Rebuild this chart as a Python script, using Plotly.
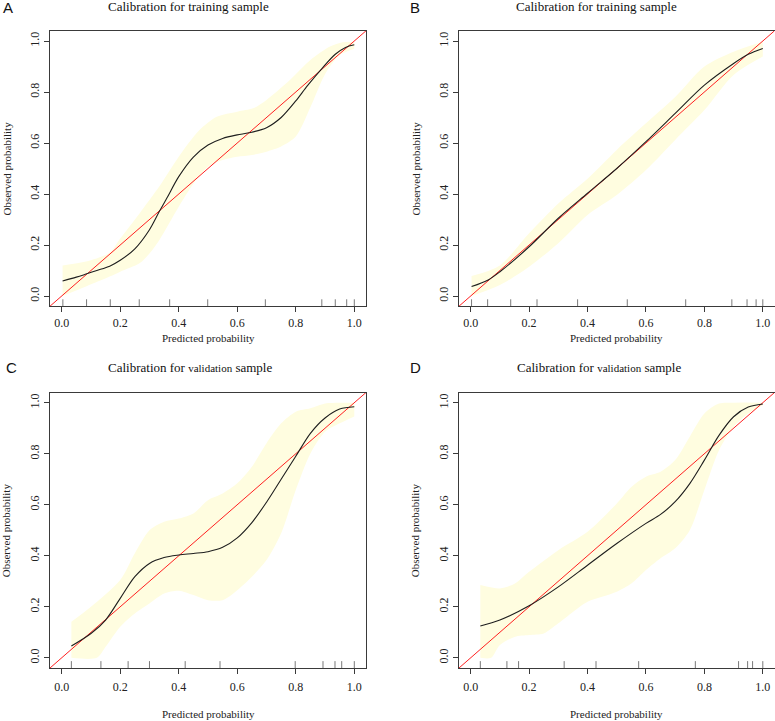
import plotly.graph_objects as go

W, H = 775, 721

# ---------------- data ----------------
# Panel A - training sample
a_curve_x = [0.003, 0.05, 0.083, 0.12, 0.164, 0.2, 0.25, 0.3, 0.333, 0.36, 0.4, 0.45, 0.5, 0.55, 0.6, 0.64, 0.7, 0.75, 0.8, 0.84, 0.89, 0.935, 0.97, 1.0]
a_curve_y = [0.059, 0.074, 0.086, 0.100, 0.117, 0.140, 0.185, 0.260, 0.330, 0.385, 0.468, 0.545, 0.592, 0.618, 0.632, 0.640, 0.660, 0.700, 0.765, 0.825, 0.893, 0.948, 0.975, 0.985]
a_up_x = [0.003, 0.083, 0.164, 0.2, 0.266, 0.334, 0.4, 0.47, 0.53, 0.6, 0.654, 0.7, 0.78, 0.85, 0.917, 0.96, 1.0]
a_up_y = [0.12, 0.135, 0.170, 0.225, 0.324, 0.43, 0.546, 0.65, 0.703, 0.723, 0.736, 0.769, 0.847, 0.925, 0.978, 0.995, 0.997]
a_lo_x = [0.003, 0.083, 0.164, 0.2, 0.266, 0.3, 0.334, 0.4, 0.45, 0.5, 0.55, 0.6, 0.65, 0.7, 0.75, 0.8, 0.85, 0.9, 0.95, 1.0]
a_lo_y = [0.0, 0.037, 0.076, 0.095, 0.128, 0.167, 0.22, 0.35, 0.44, 0.507, 0.533, 0.546, 0.553, 0.566, 0.586, 0.625, 0.74, 0.87, 0.945, 0.97]
a_rug = [0.004, 0.085, 0.166, 0.265, 0.369, 0.499, 0.696, 0.889, 0.935, 0.974, 1.0]

# Panel B - training sample
b_curve_x = [0.003, 0.06, 0.1, 0.2, 0.3, 0.4, 0.5, 0.6, 0.7, 0.8, 0.9, 0.95, 1.0]
b_curve_y = [0.037, 0.063, 0.095, 0.193, 0.305, 0.403, 0.5, 0.605, 0.716, 0.827, 0.912, 0.948, 0.971]
b_up_x = [0.003, 0.1, 0.2, 0.3, 0.4, 0.5, 0.6, 0.7, 0.8, 0.9, 1.0]
b_up_y = [0.078, 0.12, 0.246, 0.363, 0.46, 0.573, 0.677, 0.78, 0.9, 0.958, 0.997]
b_lo_x = [0.003, 0.1, 0.2, 0.3, 0.4, 0.5, 0.6, 0.7, 0.8, 0.9, 1.0]
b_lo_y = [0.0, 0.043, 0.115, 0.207, 0.318, 0.396, 0.494, 0.612, 0.729, 0.867, 0.939]
b_rug = [0.003, 0.058, 0.137, 0.227, 0.366, 0.536, 0.736, 0.894, 0.946, 0.977, 1.0]

# Panel C - validation sample
c_curve_x = [0.033, 0.1, 0.15, 0.2, 0.25, 0.3, 0.35, 0.4, 0.45, 0.5, 0.55, 0.6, 0.65, 0.7, 0.75, 0.8, 0.85, 0.9, 0.95, 1.0]
c_curve_y = [0.046, 0.095, 0.148, 0.233, 0.318, 0.37, 0.393, 0.403, 0.409, 0.416, 0.433, 0.470, 0.530, 0.610, 0.700, 0.790, 0.880, 0.940, 0.975, 0.984]
c_up_x = [0.033, 0.1, 0.2, 0.25, 0.3, 0.35, 0.4, 0.45, 0.5, 0.55, 0.6, 0.65, 0.7, 0.75, 0.8, 0.85, 0.9, 0.95, 1.0]
c_up_y = [0.141, 0.2, 0.305, 0.41, 0.5, 0.533, 0.546, 0.566, 0.618, 0.644, 0.684, 0.749, 0.841, 0.919, 0.965, 0.978, 0.997, 1.0, 1.0]
c_lo_x = [0.033, 0.12, 0.15, 0.2, 0.25, 0.3, 0.35, 0.4, 0.45, 0.5, 0.55, 0.6, 0.65, 0.7, 0.75, 0.8, 0.85, 0.9, 0.95, 1.0]
c_lo_y = [0.0, 0.0, 0.043, 0.122, 0.174, 0.213, 0.252, 0.263, 0.246, 0.226, 0.226, 0.265, 0.318, 0.383, 0.488, 0.658, 0.801, 0.886, 0.919, 0.946]
c_rug = [0.033, 0.134, 0.227, 0.3, 0.422, 0.541, 0.798, 0.893, 0.934, 0.957, 1.0]

# Panel D - validation sample
d_curve_x = [0.033, 0.1, 0.2, 0.3, 0.4, 0.5, 0.6, 0.65, 0.7, 0.75, 0.8, 0.85, 0.9, 0.95, 1.0]
d_curve_y = [0.125, 0.148, 0.204, 0.278, 0.363, 0.448, 0.527, 0.562, 0.612, 0.683, 0.775, 0.872, 0.945, 0.983, 0.995]
d_up_x = [0.033, 0.1, 0.15, 0.2, 0.3, 0.4, 0.5, 0.55, 0.6, 0.65, 0.7, 0.75, 0.8, 0.85, 0.9, 1.0]
d_up_y = [0.285, 0.272, 0.29, 0.337, 0.422, 0.494, 0.605, 0.67, 0.71, 0.729, 0.775, 0.867, 0.958, 0.997, 1.0, 1.0]
d_lo_x = [0.033, 0.07, 0.1, 0.15, 0.2, 0.25, 0.3, 0.35, 0.4, 0.45, 0.5, 0.55, 0.6, 0.65, 0.7, 0.75, 0.8, 0.85, 0.9, 0.95, 1.0]
d_lo_y = [0.0, 0.0, 0.05, 0.082, 0.089, 0.095, 0.135, 0.18, 0.22, 0.239, 0.259, 0.291, 0.344, 0.39, 0.429, 0.5, 0.658, 0.814, 0.906, 0.958, 0.99]
d_rug = [0.033, 0.124, 0.164, 0.32, 0.429, 0.575, 0.769, 0.917, 0.948, 0.965, 1.0]

tick_vals = [0.0, 0.2, 0.4, 0.6, 0.8, 1.0]
tick_text = ["0.0", "0.2", "0.4", "0.6", "0.8", "1.0"]
axis_range = [-0.04, 1.04]

panel_letters = ["A", "B", "C", "D"]
panel_titles = [
    "Calibration for training sample",
    "Calibration for training sample",
    "Calibration for <span style='font-size:11px'>validation</span> sample",
    "Calibration for <span style='font-size:11px'>validation</span> sample",
]
x_title = "Predicted probability"
y_title = "Observed probability"

panels = [
    (a_curve_x, a_curve_y, a_up_x, a_up_y, a_lo_x, a_lo_y, a_rug),
    (b_curve_x, b_curve_y, b_up_x, b_up_y, b_lo_x, b_lo_y, b_rug),
    (c_curve_x, c_curve_y, c_up_x, c_up_y, c_lo_x, c_lo_y, c_rug),
    (d_curve_x, d_curve_y, d_up_x, d_up_y, d_lo_x, d_lo_y, d_rug),
]

# ---------------- layout geometry (pixels) ----------------
boxes = [  # left, right, top, bottom
    (50.0, 366.0, 30.8, 306.2),
    (459.0, 774.5, 30.8, 306.2),
    (50.0, 366.0, 392.5, 668.0),
    (459.0, 774.5, 392.5, 668.0),
]
letter_pos = [(8, 8), (415, 8), (11, 367), (415, 367)]
title_pos = [(188, 7), (596, 7), (190, 367), (599, 367)]
xtitle_y = [338, 338, 714, 714]
ytitle_x = [6, 415, 6, 415]

SERIF = "Liberation Serif, Times New Roman, serif"
SANS = "Liberation Sans, Arial, sans-serif"
BAND = "#FFFDE0"
BOXC = "#3a3a3a"

fig = go.Figure()
annotations = []
layout_axes = {}

rug_h = 0.027

for i, (cx, cy, ux, uy, lx, ly, rug) in enumerate(panels):
    n = "" if i == 0 else str(i + 1)
    xa, ya = "x" + n, "y" + n
    # band
    fig.add_trace(go.Scatter(x=lx, y=ly, mode="lines", line=dict(width=0, shape="spline", smoothing=0.8),
                             xaxis=xa, yaxis=ya, hoverinfo="skip", showlegend=False))
    fig.add_trace(go.Scatter(x=ux, y=uy, mode="lines", line=dict(width=0, shape="spline", smoothing=0.8),
                             fill="tonexty", fillcolor=BAND,
                             xaxis=xa, yaxis=ya, hoverinfo="skip", showlegend=False))
    # rug
    rx, ry = [], []
    for v in rug:
        rx += [v, v, None]
        ry += [axis_range[0], axis_range[0] + rug_h, None]
    fig.add_trace(go.Scatter(x=rx, y=ry, mode="lines", line=dict(color="#7a7a7a", width=1),
                             xaxis=xa, yaxis=ya, hoverinfo="skip", showlegend=False))
    # ideal diagonal
    fig.add_trace(go.Scatter(x=axis_range, y=axis_range, mode="lines", line=dict(color="#ff2020", width=1),
                             xaxis=xa, yaxis=ya, hoverinfo="skip", showlegend=False, cliponaxis=True))
    # calibration curve
    fig.add_trace(go.Scatter(x=cx, y=cy, mode="lines", line=dict(color="#1e1e1e", width=1.1, shape="spline", smoothing=0.9),
                             xaxis=xa, yaxis=ya, showlegend=False))

    l, r, t, b = boxes[i]
    axis_common = dict(range=axis_range, showgrid=False, zeroline=False, showline=True, mirror=True,
                       linecolor=BOXC, linewidth=1, ticks="outside", ticklen=5, tickcolor=BOXC, tickwidth=1,
                       tickvals=tick_vals, ticktext=tick_text,
                       tickfont=dict(family=SERIF, size=12, color="#222"))
    layout_axes["xaxis" + n] = dict(axis_common, domain=[l / W, r / W], anchor=ya,
                                    ticklabelstandoff=(0 if i < 2 else 3))
    layout_axes["yaxis" + n] = dict(axis_common, domain=[1 - b / H, 1 - t / H], anchor=xa, tickangle=-90)

    annotations.append(dict(text=panel_letters[i], x=letter_pos[i][0] / W, y=1 - letter_pos[i][1] / H,
                            xref="paper", yref="paper", showarrow=False, xanchor="center", yanchor="middle",
                            font=dict(family=SANS, size=15, color="#111")))
    annotations.append(dict(text=panel_titles[i], x=title_pos[i][0] / W, y=1 - title_pos[i][1] / H,
                            xref="paper", yref="paper", showarrow=False, xanchor="center", yanchor="middle",
                            font=dict(family=SERIF, size=13, color="#111")))
    annotations.append(dict(text=x_title, x=(l + r) / 2 / W, y=1 - xtitle_y[i] / H,
                            xref="paper", yref="paper", showarrow=False, xanchor="center", yanchor="middle",
                            font=dict(family=SERIF, size=11, color="#222")))
    annotations.append(dict(text=y_title, x=ytitle_x[i] / W, y=1 - (t + b) / 2 / H, textangle=-90,
                            xref="paper", yref="paper", showarrow=False, xanchor="center", yanchor="middle",
                            font=dict(family=SERIF, size=11, color="#222")))

fig.update_layout(width=W, height=H, margin=dict(l=0, r=0, t=0, b=0),
                  paper_bgcolor="white", plot_bgcolor="white", showlegend=False,
                  annotations=annotations, **layout_axes)

fig.write_html("out.html", config={"displayModeBar": False},
               post_script="document.body.style.margin='0';document.body.style.overflow='hidden';")
